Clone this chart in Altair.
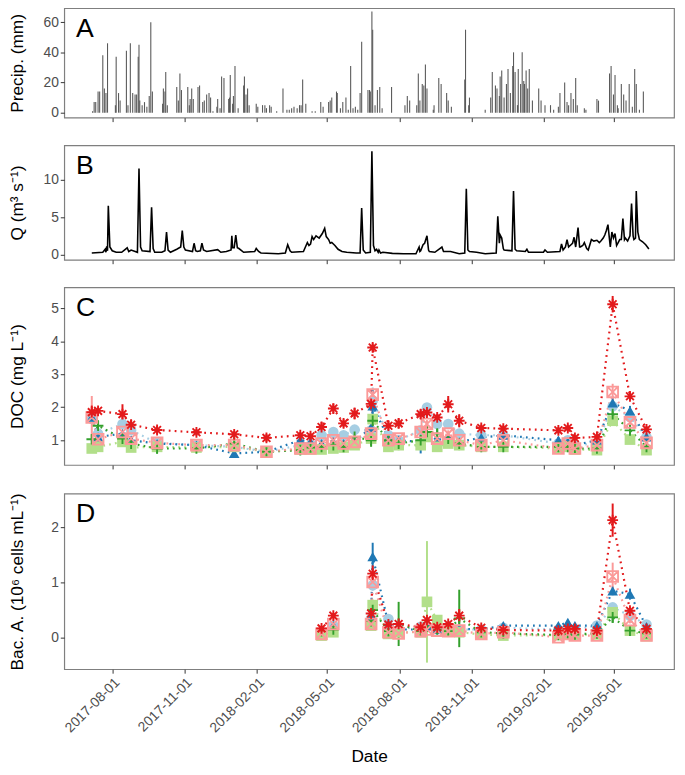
import altair as alt
import pandas as pd

FONT = "Liberation Sans"
BASE = pd.Timestamp("2017-08-01")

# ---------------- shared x axis ----------------
x_start = "2017-06-01"
x_end = "2019-07-16"
x_tick_labels = ["2017-08-01", "2017-11-01", "2018-02-01", "2018-05-01",
                 "2018-08-01", "2018-11-01", "2019-02-01", "2019-05-01"]
panel_letters = ["A", "B", "C", "D"]
y_titles = ["Precip. (mm)", "Q (m³ s⁻¹)", "DOC (mg L⁻¹)", "Bac. A. (10⁶ cells mL⁻¹)"]

# ---------------- panel A: daily precipitation (day offset from 2017-08-01, mm) ----------------
precip_day = [-25, -23, -21, -18, -16, -12, -10, -8, -6, 4, 5, 8, 10, 18, 20, 23, 26, 29, 31, 33, 34, 35,
              38, 41, 44, 47, 49, 51, 64, 65, 67, 68, 70, 82, 84, 86, 88, 96, 98, 99, 101, 103, 109, 111,
              115, 117, 120, 123, 125, 128, 133, 134, 137, 139, 142, 148, 149, 150, 153, 154, 156, 160,
              167, 168, 170, 172, 174, 183, 185, 191, 194, 196, 200, 202, 209, 217, 222, 225, 228, 231,
              235, 238, 240, 242, 246, 254, 258, 265, 268, 275, 277, 279, 285, 286, 290, 293, 297, 300,
              303, 306, 309, 312, 315, 317, 325, 327, 328, 330, 331, 334, 337, 340, 343, 355, 372, 375,
              378, 387, 389, 391, 394, 396, 398, 400, 408, 409, 415, 418, 425, 427, 431, 448, 449, 453,
              454, 474, 481, 483, 487, 489, 492, 493, 495, 498, 501, 503, 506, 509, 510, 512, 515, 516,
              519, 521, 523, 524, 526, 528, 530, 534, 542, 545, 550, 557, 561, 567, 569, 575, 578, 580,
              583, 586, 589, 591, 600, 602, 616, 618, 632, 634, 637, 639, 642, 643, 647, 650, 653, 657,
              661, 664, 666, 670, 675]
precip_mm = [1, 7, 7, 14, 14, 38, 16, 13, 46, 5, 37, 13, 8, 41, 5, 46, 13, 12, 12, 37, 45, 8,
             5, 7, 4, 11, 60, 14, 6, 16, 14, 27, 5, 17, 8, 26, 15, 17, 5, 9, 16, 9, 17, 18,
             7, 8, 12, 13, 10, 1, 4, 9, 3, 24, 23, 9, 10, 25, 6, 11, 31, 3,
             18, 24, 12, 16, 5, 6, 4, 5, 5, 3, 5, 4, 1, 16, 2, 2, 3, 4,
             3, 5, 5, 22, 6, 1, 1, 7, 4, 7, 8, 10, 14, 13, 3, 7, 10, 2,
             31, 3, 4, 2, 13, 47, 15, 15, 14, 67, 55, 5, 15, 17, 3, 17, 5, 11,
             8, 5, 26, 8, 19, 18, 32, 16, 2, 5, 23, 19, 13, 8, 4, 22, 55, 5,
             10, 2, 10, 27, 18, 16, 11, 24, 28, 10, 19, 29, 13, 31, 40, 27, 5, 29,
             19, 40, 21, 19, 28, 16, 29, 8, 16, 8, 5, 5, 2, 4, 13, 20, 7, 5,
             13, 9, 23, 5, 3, 2, 9, 8, 26, 31, 12, 25, 5, 3, 19, 12, 8, 19,
             4, 29, 19, 2, 14]

# ---------------- panel B: discharge (day offset, m3/s) ----------------
q_day = [-26, -12, -9, -8, -7, -6, -5, -3, 0, 5, 12, 19, 21, 24, 32, 34, 36, 38, 48, 50, 52, 54, 63,
         67, 69, 71, 74, 82, 87, 89, 91, 93, 102, 104, 106, 108, 112, 114, 116, 120, 134, 138, 145,
         151, 152, 153, 155, 157, 159, 161, 167, 181, 183, 186, 189, 211, 220, 223, 226, 228, 243,
         248, 250, 252, 254, 256, 259, 263, 267, 270, 272, 275, 277, 279, 283, 287, 292, 298, 310,
         315, 317, 319, 322, 328, 330, 332, 334, 336, 338, 339, 341, 344, 356, 370, 386, 390, 391,
         392, 395, 397, 400, 402, 403, 410, 419, 421, 430, 441, 448, 450, 452, 454, 463, 474, 488,
         490, 492, 493, 495, 497, 498, 508, 510, 512, 514, 525, 527, 529, 531, 548, 550, 553, 569,
         571, 573, 576, 578, 580, 582, 585, 587, 589, 592, 594, 595, 598, 600, 603, 605, 609, 612,
         616, 619, 621, 624, 626, 628, 630, 632, 633, 635, 637, 639, 641, 643, 645, 647, 649, 651,
         652, 655, 658, 660, 662, 663, 665, 666, 668, 670, 674, 678, 682]
q_val = [0.2, 0.3, 0.7, 0.3, 1.1, 0.5, 6.5, 1.0, 0.5, 0.3, 0.3, 0.9, 0.4, 0.6, 0.3, 11.5, 1.0, 0.5, 0.4, 6.3, 0.8, 0.3, 0.3,
         0.5, 3.0, 0.6, 0.3, 0.7, 1.0, 3.2, 1.0, 0.6, 0.4, 1.5, 0.5, 0.4, 0.5, 1.5, 0.6, 0.4, 0.65, 0.3, 0.4,
         0.6, 2.5, 0.9, 0.9, 2.6, 0.9, 0.8, 0.3, 0.4, 0.8, 0.4, 0.2, 0.1, 0.2, 1.3, 0.5, 0.3, 0.4,
         1.6, 1.2, 1.4, 2.4, 2.0, 2.5, 2.2, 2.8, 3.5, 2.4, 2.0, 1.5, 1.6, 1.2, 0.7, 0.4, 0.3, 0.2,
         0.2, 6.2, 0.6, 0.2, 0.3, 13.8, 1.2, 0.5, 0.7, 0.3, 0.6, 0.2, 0.3, 0.15, 0.1, 0.1, 1.0, 0.4,
         0.5, 1.3, 1.5, 2.5, 0.6, 0.4, 0.3, 1.0, 0.4, 0.4, 0.1, 0.2, 8.8, 0.6, 0.4, 0.3, 0.1, 0.2,
         5.1, 1.5, 2.6, 2.2, 0.8, 0.6, 0.5, 8.5, 0.7, 0.5, 0.4, 0.7, 0.3, 0.3, 0.3, 0.6, 0.3, 0.4,
         1.4, 0.6, 1.0, 2.0, 1.0, 1.2, 1.5, 2.3, 1.0, 3.6, 1.0, 1.0, 1.2, 1.6, 0.8, 0.6, 2.0, 1.8,
         1.9, 1.6, 1.8, 2.2, 2.6, 3.2, 4.0, 2.0, 1.0, 3.0, 2.2, 2.8, 1.2, 1.6, 2.0, 2.0, 4.8, 2.0,
         2.2, 1.8, 2.5, 6.8, 2.5, 2.0, 2.2, 8.5, 3.0, 2.0, 1.7, 1.3, 0.75]

# ---------------- sampling series ----------------
series_names = ["S1", "S2", "S3", "S4", "S5", "S6"]
series_colors = ["#A6CEE3", "#1F78B4", "#B2DF8A", "#33A02C", "#FB9A99", "#E31A1C"]

sample_dates = ["2017-07-06", "2017-07-14", "2017-08-14", "2017-08-25", "2017-09-27", "2017-11-16",
                "2018-01-03", "2018-02-13", "2018-03-28", "2018-04-10", "2018-04-24", "2018-05-09",
                "2018-05-22", "2018-06-05", "2018-06-26", "2018-06-28", "2018-07-18", "2018-07-31",
                "2018-08-28", "2018-09-05", "2018-09-18", "2018-10-02", "2018-10-16", "2018-11-13",
                "2018-12-11", "2019-02-19", "2019-03-03", "2019-03-12", "2019-04-09", "2019-04-29",
                "2019-05-21", "2019-06-11"]

doc_s1 = [1.65, 1.20, 1.49, 1.30, 0.92, 0.85, 0.80, 0.65, 0.85, 0.85, 1.15, 1.25, 1.15, 1.32, 1.30, 2.20,
          1.15, 1.00, 1.30, 1.99, 1.49, 1.49, 1.20, 1.15, 1.15, 0.90, 1.00, 0.85, 0.90, 2.03, 1.70, 1.10]
doc_s2 = [1.70, 1.10, 1.20, 1.00, 0.90, 0.85, 0.60, 0.65, 1.00, 0.95, 0.90, 0.95, 0.90, 0.95, 1.39, 2.04,
          1.05, 1.00, 0.95, 1.20, 1.00, 1.10, 0.95, 1.08, 1.15, 1.00, 0.95, 0.85, 1.00, 2.13, 1.89, 1.10]
doc_s3 = [0.75, 0.80, 0.95, 0.78, 0.80, 0.78, 0.80, 0.65, 0.72, 0.72, 0.72, 0.75, 0.78, 0.85, 1.05, 1.64,
          0.80, 0.85, 0.85, 1.10, 0.80, 0.90, 0.85, 0.80, 0.80, 0.75, 0.80, 0.72, 0.70, 1.59, 1.02, 0.70]
doc_s4 = [1.03, 1.44, 1.05, 0.90, 0.75, 0.75, 0.90, 0.65, 0.70, 0.78, 0.80, 0.85, 0.80, 1.10, 1.00, 1.59,
          1.00, 0.90, 1.00, 1.25, 1.20, 1.05, 0.90, 0.80, 0.80, 0.80, 0.80, 0.75, 0.75, 1.79, 1.30, 0.80]
doc_s5 = [1.69, 1.03, 1.25, 1.05, 0.92, 0.85, 0.85, 0.65, 0.75, 0.75, 0.90, 1.00, 0.90, 0.95, 1.20, 2.38,
          1.00, 1.05, 1.25, 1.49, 1.05, 1.20, 1.00, 0.85, 1.00, 0.75, 0.90, 0.75, 0.85, 2.46, 1.54, 0.92]
doc_s6 = [1.85, 1.89, 1.79, 1.47, 1.31, 1.24, 1.18, 1.07, 1.15, 1.12, 1.40, 1.96, 1.51, 1.81, 2.10, 3.81,
          1.44, 1.51, 1.79, 1.84, 1.69, 2.09, 1.59, 1.37, 1.35, 1.30, 1.37, 1.07, 1.10, 5.12, 2.33, 1.33]

doc_s1_err = [0.05, 0.06, 0.05, 0.05, 0.04, 0.04, 0.05, 0.04, 0.05, 0.05, 0.06, 0.06, 0.05, 0.06, 0.08, 0.40,
              0.06, 0.05, 0.06, 0.08, 0.06, 0.06, 0.05, 0.05, 0.05, 0.05, 0.05, 0.04, 0.05, 0.10, 0.08, 0.05]
doc_s2_err = [0.10, 0.10, 0.10, 0.10, 0.10, 0.08, 0.10, 0.10, 0.15, 0.15, 0.15, 0.15, 0.15, 0.10, 0.15, 0.50,
              0.15, 0.15, 0.35, 0.15, 0.12, 0.10, 0.15, 0.08, 0.08, 0.10, 0.10, 0.10, 0.10, 0.20, 0.15, 0.10]
doc_s3_err = [0.05, 0.05, 0.05, 0.04, 0.04, 0.04, 0.05, 0.04, 0.04, 0.04, 0.04, 0.05, 0.05, 0.05, 0.05, 0.06,
              0.05, 0.05, 0.05, 0.05, 0.05, 0.05, 0.04, 0.04, 0.04, 0.04, 0.04, 0.04, 0.04, 0.06, 0.05, 0.04]
doc_s4_err = [0.15, 0.15, 0.15, 0.12, 0.15, 0.10, 0.20, 0.10, 0.10, 0.10, 0.15, 0.20, 0.15, 0.15, 0.20, 0.20,
              0.20, 0.20, 0.25, 0.25, 0.25, 0.15, 0.20, 0.12, 0.12, 0.12, 0.15, 0.12, 0.10, 0.25, 0.20, 0.15]
doc_s5_err = [0.65, 0.10, 0.08, 0.08, 0.08, 0.05, 0.05, 0.05, 0.05, 0.05, 0.05, 0.10, 0.10, 0.10, 0.10, 0.12,
              0.08, 0.10, 0.10, 0.12, 0.08, 0.10, 0.08, 0.05, 0.05, 0.05, 0.05, 0.05, 0.05, 0.25, 0.10, 0.08]
doc_s6_err = [0.20, 0.10, 0.30, 0.15, 0.12, 0.10, 0.10, 0.12, 0.10, 0.10, 0.15, 0.15, 0.12, 0.18, 0.20, 0.12,
              0.15, 0.15, 0.15, 0.12, 0.10, 0.25, 0.20, 0.10, 0.10, 0.10, 0.10, 0.08, 0.08, 0.25, 0.12, 0.10]

ba_dates = ["2018-04-24", "2018-05-09", "2018-06-26", "2018-06-28", "2018-07-18", "2018-07-31",
            "2018-08-28", "2018-09-05", "2018-09-18", "2018-10-02", "2018-10-16", "2018-11-13",
            "2018-12-11", "2019-02-19", "2019-03-03", "2019-03-12", "2019-04-09", "2019-04-29",
            "2019-05-21", "2019-06-11"]
ba_segment = [0, 0, 1, 1, 1, 1, 1, 1, 1, 1, 1, 1, 1, 1, 1, 1, 1, 1, 1, 1]

ba_s1 = [0.10, 0.22, 0.35, 0.95, 0.34, 0.15, 0.20, 0.20, 0.15, 0.20, 0.15, 0.15, 0.18, 0.15, 0.15, 0.15, 0.22, 0.55, 0.40, 0.24]
ba_s2 = [0.10, 0.22, 0.37, 1.47, 0.25, 0.15, 0.15, 0.22, 0.15, 0.18, 0.16, 0.15, 0.22, 0.22, 0.28, 0.22, 0.22, 0.85, 0.79, 0.20]
ba_s3 = [0.04, 0.10, 0.22, 0.59, 0.07, 0.10, 0.10, 0.65, 0.32, 0.12, 0.10, 0.06, 0.04, 0.05, 0.06, 0.05, 0.06, 0.46, 0.13, 0.03]
ba_s4 = [0.12, 0.15, 0.30, 0.50, 0.12, 0.25, 0.12, 0.20, 0.15, 0.12, 0.35, 0.10, 0.08, 0.05, 0.06, 0.06, 0.08, 0.37, 0.13, 0.08]
ba_s5 = [0.07, 0.25, 0.25, 1.01, 0.10, 0.08, 0.12, 0.15, 0.13, 0.12, 0.13, 0.07, 0.10, 0.01, 0.07, 0.04, 0.04, 1.11, 0.32, 0.04]
ba_s6 = [0.17, 0.40, 0.44, 1.16, 0.24, 0.25, 0.19, 0.32, 0.19, 0.25, 0.40, 0.18, 0.14, 0.13, 0.16, 0.16, 0.13, 2.13, 0.49, 0.16]

ba_s1_err = [0.03, 0.03, 0.04, 0.10, 0.04, 0.03, 0.03, 0.03, 0.03, 0.03, 0.03, 0.03, 0.03, 0.03, 0.03, 0.03, 0.03, 0.05, 0.04, 0.03]
ba_s2_err = [0.03, 0.05, 0.05, 0.25, 0.03, 0.03, 0.03, 0.03, 0.03, 0.03, 0.03, 0.03, 0.03, 0.03, 0.03, 0.03, 0.03, 0.08, 0.10, 0.03]
ba_s3_err = [0.03, 0.03, 0.05, 0.10, 0.03, 0.03, 0.03, 1.10, 0.05, 0.03, 0.03, 0.03, 0.03, 0.03, 0.03, 0.03, 0.03, 0.05, 0.05, 0.03]
ba_s4_err = [0.03, 0.05, 0.10, 0.15, 0.05, 0.40, 0.03, 0.05, 0.03, 0.03, 0.52, 0.03, 0.03, 0.03, 0.03, 0.03, 0.03, 0.10, 0.05, 0.03]
ba_s5_err = [0.03, 0.05, 0.05, 0.10, 0.03, 0.03, 0.03, 0.03, 0.03, 0.03, 0.03, 0.03, 0.03, 0.03, 0.03, 0.03, 0.03, 0.25, 0.06, 0.03]
ba_s6_err = [0.03, 0.05, 0.05, 0.15, 0.03, 0.03, 0.03, 0.05, 0.03, 0.03, 0.12, 0.03, 0.03, 0.03, 0.03, 0.03, 0.03, 0.30, 0.06, 0.03]

# ---------------- build tables ----------------
def offsets_to_dates(offs):
    return [(BASE + pd.Timedelta(days=int(o))).strftime("%Y-%m-%d") for o in offs]

precip_df = pd.DataFrame({"date": offsets_to_dates(precip_day), "p": precip_mm})
q_df = pd.DataFrame({"date": offsets_to_dates(q_day), "q": q_val})


def long_table(dates, segs, vals, errs):
    rows = []
    for name, v_list, e_list in zip(series_names, vals, errs):
        for d, s, v, e in zip(dates, segs, v_list, e_list):
            rows.append({"date": d, "series": name, "seg": s, "value": v, "lo": v - e, "hi": v + e})
    return pd.DataFrame(rows)


doc_df = long_table(sample_dates, [0] * len(sample_dates),
                    [doc_s1, doc_s2, doc_s3, doc_s4, doc_s5, doc_s6],
                    [doc_s1_err, doc_s2_err, doc_s3_err, doc_s4_err, doc_s5_err, doc_s6_err])
ba_df = long_table(ba_dates, ba_segment,
                   [ba_s1, ba_s2, ba_s3, ba_s4, ba_s5, ba_s6],
                   [ba_s1_err, ba_s2_err, ba_s3_err, ba_s4_err, ba_s5_err, ba_s6_err])

# ---------------- encodings ----------------
W = 618
PLUS = "M-1,0L1,0M0,-1L0,1"
SQX = "M-1,-1L1,-1L1,1L-1,1ZM-1,-1L1,1M-1,1L1,-1"
AST = "M-1,0L1,0M0,-1L0,1M-0.72,-0.72L0.72,0.72M-0.72,0.72L0.72,-0.72"

color_scale = alt.Scale(domain=series_names, range=series_colors)
shape_scale = alt.Scale(domain=series_names, range=["circle", "triangle-up", "square", PLUS, SQX, AST])
size_scale = alt.Scale(domain=series_names, range=[115, 120, 110, 190, 125, 300])


def to_dt(s):
    t = pd.Timestamp(s)
    return alt.DateTime(year=t.year, month=t.month, date=t.day, utc=True)


def x_enc(show):
    if show:
        axis = alt.Axis(values=[to_dt(s) for s in x_tick_labels], format="%Y-%m-%d", labelAngle=-45,
                        labelAlign="right", labelBaseline="top", labelPadding=2, tickSize=4,
                        title="Date", titlePadding=13)
    else:
        axis = alt.Axis(values=[to_dt(s) for s in x_tick_labels], labels=False, tickSize=4, title=None)
    return alt.X("date:T", axis=axis,
                 scale=alt.Scale(type="utc", domain=[to_dt(x_start), to_dt(x_end)]))


def y_axis(values, title, h):
    return alt.Axis(values=values, format="d", title=title, titleX=-47, titleY=h / 2, titleAngle=270,
                    titleAlign="center", titleBaseline="middle", tickSize=4)


def letter(lab):
    return alt.Chart(pd.DataFrame({"lab": [lab]})).mark_text(
        align="left", baseline="top", fontSize=27, font=FONT, color="black"
    ).encode(x=alt.value(12), y=alt.value(8), text="lab:N")


# Panel A
HA = 111
pa = alt.layer(
    alt.Chart(precip_df).mark_rule(color="#5A5A5A", strokeWidth=1.1).encode(
        x=x_enc(False),
        y=alt.Y("p:Q", scale=alt.Scale(domain=[-3.3, 69.3], nice=False, zero=False),
                axis=y_axis([0, 20, 40, 60], y_titles[0], HA)),
        y2=alt.datum(0),
    ),
    letter(panel_letters[0]),
).properties(width=W, height=HA)

# Panel B
HB = 116
pb = alt.layer(
    alt.Chart(q_df).mark_line(color="black", strokeWidth=1.6).encode(
        x=x_enc(False),
        y=alt.Y("q:Q", scale=alt.Scale(domain=[-0.7, 14.6], nice=False, zero=False),
                axis=y_axis([0, 5, 10], y_titles[1], HB)),
    ),
    letter(panel_letters[1]),
).properties(width=W, height=HB)


def series_panel(df, ydom, yvals, title, h, lab, show_x):
    base = alt.Chart(df)
    y = alt.Y("value:Q", scale=alt.Scale(domain=ydom, nice=False, zero=False),
              axis=y_axis(yvals, title, h))
    col = alt.Color("series:N", scale=color_scale, legend=None)
    lines = base.mark_line(strokeDash=[1.8, 4.2], strokeWidth=2.2).encode(
        x=x_enc(show_x), y=y, color=col, detail="seg:N")
    bars = base.mark_rule(strokeWidth=2).encode(
        x=x_enc(show_x), y="lo:Q", y2="hi:Q", color=col)
    filled = base.transform_filter(
        alt.FieldOneOfPredicate(field="series", oneOf=series_names[:3])
    ).mark_point(filled=True, opacity=1).encode(
        x=x_enc(show_x), y=y, color=col,
        shape=alt.Shape("series:N", scale=shape_scale, legend=None),
        size=alt.Size("series:N", scale=size_scale, legend=None))
    stroked = base.transform_filter(
        alt.FieldOneOfPredicate(field="series", oneOf=series_names[3:])
    ).mark_point(filled=False, opacity=1, strokeWidth=1.9).encode(
        x=x_enc(show_x), y=y, color=col,
        shape=alt.Shape("series:N", scale=shape_scale, legend=None),
        size=alt.Size("series:N", scale=size_scale, legend=None))
    return alt.layer(lines, bars, filled, stroked, letter(lab)).properties(width=W, height=h)


HC = 180
HD = 178
pc = series_panel(doc_df, [0.25, 5.63], [1, 2, 3, 4, 5], y_titles[2], HC, panel_letters[2], False)
pdd = series_panel(ba_df, [-0.57, 2.61], [0, 1, 2], y_titles[3], HD, panel_letters[3], True)

chart = alt.vconcat(pa, pb, pc, pdd, spacing=21).properties(
    padding={"left": 0, "top": -6, "right": 2, "bottom": 0}
).configure_view(
    stroke="#7F7F7F", strokeWidth=1.2
).configure_axis(
    grid=False, domain=False, labelFont=FONT, titleFont=FONT, labelFontSize=14,
    labelColor="#4D4D4D", titleFontSize=17.5, titleFontWeight="normal", titleColor="black",
    tickColor="#333333", tickWidth=1
).configure_text(font=FONT)

chart.save("out.html", embed_options={"renderer": "svg", "actions": False})
